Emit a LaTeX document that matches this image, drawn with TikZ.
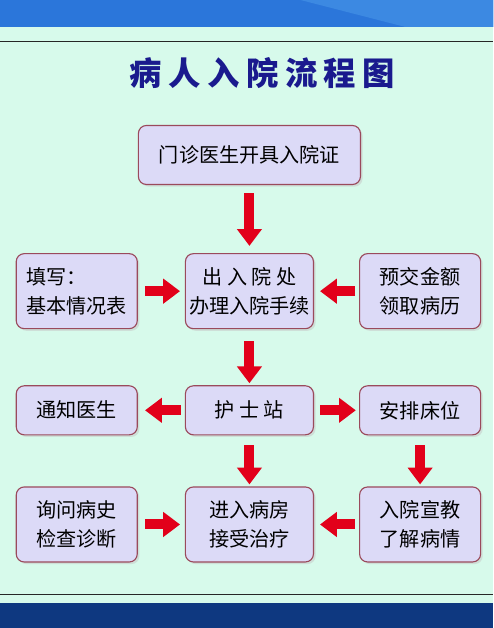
\documentclass[tikz,border=0pt]{standalone}
\usepackage{fontspec}
\newfontfamily\cjk{Noto Sans CJK SC}
\newfontfamily\titlefont[LetterSpace=20]{Noto Sans CJK SC}
\usetikzlibrary{positioning, arrows.meta, shadows}

\definecolor{mintbg}{HTML}{D7FAEB}
\definecolor{bandblue}{HTML}{2B76DA}
\definecolor{bandlight}{HTML}{3C89E2}
\definecolor{navyband}{HTML}{0E3880}
\definecolor{titleblue}{HTML}{1A1A8E}
\definecolor{boxfill}{HTML}{DCDAF7}
\definecolor{boxline}{HTML}{9A4A5C}
\definecolor{arrowred}{HTML}{E2001A}

\begin{document}
\begin{tikzpicture}[
  x=0.025cm, y=-0.025cm,
  stepbox/.style={rectangle, rounded corners=0.2cm, draw=boxline, thick, fill=boxfill,
    drop shadow={shadow xshift=1.5pt, shadow yshift=-1.5pt, fill=gray!45},
    align=center, font=\cjk\fontsize{14.3}{21}\selectfont, inner sep=2pt},
  sidebox/.style={stepbox, minimum width=3.025cm},
  flowarrow/.style={draw=arrowred, line width=0.25cm, -{Triangle[width=0.6cm, length=0.42cm]}}
]
  % background and bands
  \fill[mintbg] (0,0) rectangle (493,628);
  \fill[bandblue] (0,0) rectangle (493,27);
  \fill[bandlight] (300,0) -- (493,0) -- (493,27) -- (405,27) -- cycle;
  \draw[black!85, line width=0.6pt] (0,41) -- (493,41);
  \draw[black!85, line width=0.6pt] (0,594) -- (493,594);
  \fill[navyband] (0,603) rectangle (493,628);
  \useasboundingbox (0,0) rectangle (493,628);

  \node[font=\titlefont\bfseries\fontsize{23}{28}\selectfont, text=titleblue] (title) at (262,73) {病人入院流程图};

  % main column
  \node[stepbox, minimum width=5.55cm, minimum height=1.475cm] (cert) at (249,155) {门诊医生开具入院证};
  \node[stepbox, minimum width=3.2cm, minimum height=1.875cm, below=1.7cm of cert] (office) {出 入 院 处\\办理入院手续};
  \node[stepbox, minimum width=3.2cm, minimum height=1.225cm, below=1.4cm of office] (nurse) {护 士 站};
  \node[stepbox, minimum width=3.2cm, minimum height=1.875cm, below=1.275cm of nurse] (ward) {进入病房\\接受治疗};

  % left column
  \node[sidebox, minimum height=1.875cm, align=left, left=1.175cm of office] (form) {填写：\\基本情况表};
  \node[sidebox, minimum height=1.225cm, left=1.175cm of nurse] (notify) {通知医生};
  \node[sidebox, minimum height=1.875cm, left=1.175cm of ward] (history) {询问病史\\检查诊断};

  % right column
  \node[sidebox, minimum height=1.875cm, right=1.125cm of office] (deposit) {预交金额\\领取病历};
  \node[sidebox, minimum height=1.225cm, right=1.125cm of nurse] (bed) {安排床位};
  \node[sidebox, minimum height=1.875cm, right=1.125cm of ward] (educate) {入院宣教\\了解病情};

  % arrows
  \draw[flowarrow, shorten <=0.2cm, shorten >=0.18cm] (cert) -- (office);
  \draw[flowarrow, shorten <=0.3cm, shorten >=0.05cm] (office) -- (nurse);
  \draw[flowarrow, shorten <=0.25cm, shorten >=0.05cm] (nurse) -- (ward);
  \draw[flowarrow, shorten <=0.25cm, shorten >=0.05cm] (bed) -- (educate);
  \draw[flowarrow, shorten <=0.18cm, shorten >=0.12cm] (form) -- (office);
  \draw[flowarrow, shorten <=0.1cm, shorten >=0.15cm] (deposit) -- (office);
  \draw[flowarrow, shorten <=0.1cm, shorten >=0.18cm] (nurse) -- (notify);
  \draw[flowarrow, shorten <=0.15cm, shorten >=0.08cm] (nurse) -- (bed);
  \draw[flowarrow, shorten <=0.18cm, shorten >=0.12cm] (history) -- (ward);
  \draw[flowarrow, shorten <=0.1cm, shorten >=0.15cm] (educate) -- (ward);
\end{tikzpicture}
\end{document}
